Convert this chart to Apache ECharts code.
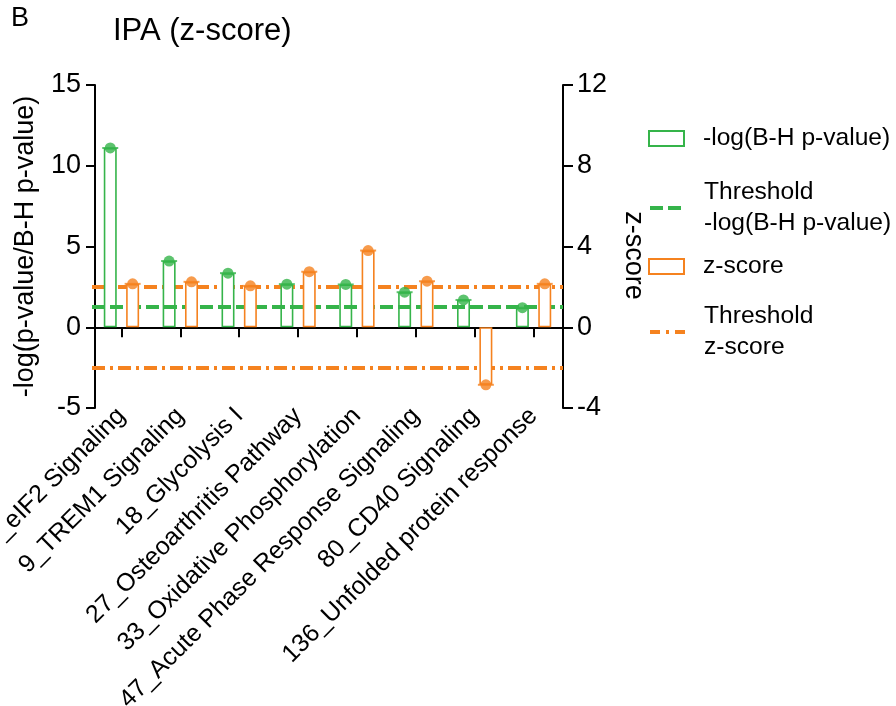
<!DOCTYPE html>
<html>
<head>
<meta charset="utf-8">
<script src="https://cdn.jsdelivr.net/npm/echarts@6/dist/echarts.min.js"></script>
<style>
html,body{margin:0;padding:0;background:#fff;}
#c{width:896px;height:706px;}
</style>
</head>
<body>
<div id="c"></div>
<script>
const categories = ['_eIF2 Signaling', '9_TREM1 Signaling', '18_Glycolysis I', '27_Osteoarthritis Pathway', '33_Oxidative Phosphorylation', '47_Acute Phase Response Signaling', '80_CD40 Signaling', '136_Unfolded protein response'];
const negLogP = [11.1, 4.1, 3.35, 2.67, 2.65, 2.17, 1.69, 1.21];
const zScore = [2.15, 2.25, 2.05, 2.75, 3.8, 2.28, -2.85, 2.15];
const pThreshold = [1.3];
const zThreshold = [2, -2];
const leftRange = [-5, 15];
const leftInterval = 5;
const rightRange = [-4, 12];
const rightInterval = 4;
const seriesNames = ['-log(B-H p-value)', 'Threshold -log(B-H p-value)', 'z-score', 'Threshold z-score'];

const G = '#35B44A';
const O = '#F5821F';
const FONT = 'Liberation Sans, Arial, sans-serif';
const OFF = 11.2;

const chart = echarts.init(document.getElementById('c'), null, {renderer: 'canvas'});

function legendBox(name, top, extra) {
  return Object.assign({
    data: [name],
    orient: 'vertical',
    left: 648,
    top: top,
    padding: 0,
    itemWidth: 35,
    itemHeight: 14,
    selectedMode: false,
    formatter: n => n.replace('Threshold ', 'Threshold\n'),
    textStyle: {fontFamily: FONT, fontSize: 24.6, color: '#000', lineHeight: 31, padding: [0, 0, 0, 14]}
  }, extra);
}

const option = {
  animation: false,
  backgroundColor: '#fff',
  textStyle: {fontFamily: FONT},
  title: [
    {text: 'B', left: 11, top: 5, padding: 0, textStyle: {fontFamily: FONT, fontSize: 27, fontWeight: 'normal', color: '#000'}},
    {text: 'IPA (z-score)', left: 113, top: 16, padding: 0, textStyle: {fontFamily: FONT, fontSize: 31, fontWeight: 'normal', color: '#000'}}
  ],
  legend: [
    legendBox(seriesNames[0], 123, {icon: 'rect', itemHeight: 15, itemStyle: {color: '#fff', borderColor: G, borderWidth: 2}}),
    legendBox(seriesNames[1], 177, {itemStyle: {opacity: 0}, lineStyle: {color: G, width: 4, type: [13, 5], opacity: 1}}),
    legendBox(seriesNames[2], 251, {icon: 'rect', itemHeight: 15, itemStyle: {color: '#fff', borderColor: O, borderWidth: 2}}),
    legendBox(seriesNames[3], 301, {itemStyle: {opacity: 0}, lineStyle: {color: O, width: 4, type: [10, 6, 3, 6], opacity: 1}})
  ],
  grid: {left: 92, right: 333, top: 85, bottom: 298, containLabel: false, outerBoundsMode: 'none'},
  xAxis: [
    {
      type: 'category', data: categories, position: 'bottom',
      axisLine: {show: true, onZero: true, lineStyle: {color: '#000', width: 2}},
      axisTick: {show: true, alignWithLabel: true, interval: 0, length: 10, lineStyle: {color: '#000', width: 2}},
      axisLabel: {show: false, interval: 0},
      splitLine: {show: false}
    },
    {
      type: 'category', data: categories, position: 'bottom',
      axisLine: {show: false, onZero: false},
      axisTick: {show: false},
      axisLabel: {show: true, rotate: 45, margin: 4, interval: 0, fontFamily: FONT, fontSize: 25, color: '#000'},
      splitLine: {show: false}
    }
  ],
  yAxis: [
    {
      type: 'value', position: 'left', offset: -3,
      min: leftRange[0], max: leftRange[1], interval: leftInterval,
      name: '-log(p-value/B-H p-value)', nameLocation: 'middle', nameGap: 56,
      nameTextStyle: {fontFamily: FONT, fontSize: 27, color: '#000'},
      axisLine: {show: true, lineStyle: {color: '#000', width: 2}},
      axisTick: {show: true, length: 9, lineStyle: {color: '#000', width: 2}},
      axisLabel: {margin: 14, fontFamily: FONT, fontSize: 27, color: '#000'},
      splitLine: {show: false}
    },
    {
      type: 'value', position: 'right',
      min: rightRange[0], max: rightRange[1], interval: rightInterval,
      name: 'z-score', nameLocation: 'middle', nameGap: 57, nameRotate: -90,
      nameTextStyle: {fontFamily: FONT, fontSize: 27, color: '#000', padding: [0, 0, 0, 18]},
      axisLine: {show: true, lineStyle: {color: '#000', width: 2}},
      axisTick: {show: true, length: 10, lineStyle: {color: '#000', width: 2}},
      axisLabel: {margin: 14, fontFamily: FONT, fontSize: 27, color: '#000'},
      splitLine: {show: false}
    }
  ],
  series: [
    {
      name: seriesNames[0], type: 'bar', xAxisIndex: 0, yAxisIndex: 0, data: negLogP,
      barWidth: 13, barGap: '72%', z: 2,
      itemStyle: {color: '#fff', borderColor: G, borderWidth: 1.6},
      emphasis: {disabled: true}
    },
    {
      name: seriesNames[2], type: 'bar', xAxisIndex: 0, yAxisIndex: 1, data: zScore,
      barWidth: 13, barGap: '72%', z: 4,
      itemStyle: {color: '#fff', borderColor: O, borderWidth: 1.6},
      emphasis: {disabled: true}
    },
    {
      type: 'scatter', xAxisIndex: 0, yAxisIndex: 0, data: negLogP, z: 5, silent: true,
      symbol: 'rect', symbolSize: [16, 2], symbolOffset: [-OFF, 0], itemStyle: {color: G}
    },
    {
      type: 'scatter', xAxisIndex: 0, yAxisIndex: 1, data: zScore, z: 5, silent: true,
      symbol: 'rect', symbolSize: [16, 2], symbolOffset: [OFF, 0], itemStyle: {color: O}
    },
    {
      type: 'scatter', xAxisIndex: 0, yAxisIndex: 0, data: negLogP, z: 6, silent: true,
      symbol: 'circle', symbolSize: 11, symbolOffset: [-OFF, 0], itemStyle: {color: G}
    },
    {
      type: 'scatter', xAxisIndex: 0, yAxisIndex: 1, data: zScore, z: 6, silent: true,
      symbol: 'circle', symbolSize: 11, symbolOffset: [OFF, 0], itemStyle: {color: O}
    },
    {
      name: seriesNames[1], type: 'line', xAxisIndex: 0, yAxisIndex: 0, data: [], z: 3,
      symbol: 'none', itemStyle: {color: G},
      lineStyle: {color: G, width: 4, type: [13, 5]},
      markLine: {
        z: 3, silent: true, symbol: ['none', 'none'], label: {show: false},
        lineStyle: {color: G, width: 4, type: [13, 5]},
        emphasis: {disabled: true},
        data: pThreshold.map(v => ({yAxis: v}))
      }
    },
    {
      name: seriesNames[3], type: 'line', xAxisIndex: 0, yAxisIndex: 1, data: [], z: 1,
      symbol: 'none', itemStyle: {color: O},
      lineStyle: {color: O, width: 4, type: [13, 5, 3, 5]},
      markLine: {
        z: 1, silent: true, symbol: ['none', 'none'], label: {show: false},
        lineStyle: {color: O, width: 4, type: [13, 5, 3, 5]},
        emphasis: {disabled: true},
        data: zThreshold.map(v => ({yAxis: v}))
      }
    }
  ]
};
chart.setOption(option);
</script>
</body>
</html>
